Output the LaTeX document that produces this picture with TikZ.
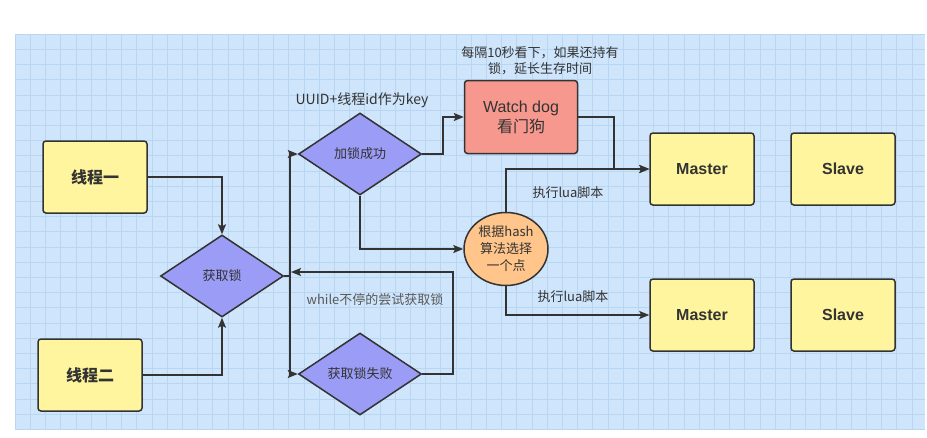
\documentclass[tikz,border=0pt]{standalone}
\usepackage{fontspec}
\setmainfont{Liberation Sans}
\newfontfamily\cjk{Noto Sans CJK SC}
\usetikzlibrary{arrows.meta,shapes.geometric}
\definecolor{bg}{HTML}{CFE5FB}
\definecolor{gridc}{HTML}{B8D5F2}
\definecolor{yel}{HTML}{FFF59E}
\definecolor{purp}{HTML}{9A9CF6}
\definecolor{salmon}{HTML}{F6988E}
\definecolor{orng}{HTML}{FFC58A}
\definecolor{edgec}{HTML}{333333}
\definecolor{txt}{HTML}{333333}
\tikzset{
  yelbox/.style={draw=edgec, line width=1.5pt, rounded corners=3pt, fill=yel,
    minimum width=104pt, minimum height=72pt, inner sep=0pt, text=txt,
    font=\cjk\bfseries\fontsize{16}{19}\selectfont},
  dia/.style={diamond, draw=edgec, line width=1.5pt, fill=purp, aspect=1.5,
    minimum width=123pt, minimum height=82pt, inner sep=0pt, text=txt,
    font=\cjk\fontsize{13}{15}\selectfont},
  conn/.style={draw=edgec, line width=1.5pt},
  arr/.style={conn, -{Stealth[length=10pt,width=8pt,inset=2pt]}},
  lbl/.style={text=txt, font=\cjk\fontsize{13}{16}\selectfont, inner sep=0pt, align=center}
}
\begin{document}
\begin{tikzpicture}[x=1pt,y=-1pt]
\useasboundingbox (0,0) rectangle (927,437);
\fill[white] (0,0) rectangle (927,437);
\fill[bg] (15,34) rectangle (925,430);
\begin{scope}
\clip (15,34) rectangle (925,430);
\foreach \i in {0,...,60} \draw[gridc, line width=0.6pt] ({15+\i*15.2},34) -- ++(0,396);
\foreach \j in {0,...,26} \draw[gridc, line width=0.6pt] (15,{34+\j*15.2}) -- ++(910,0);
\end{scope}

% nodes
\node[yelbox] (t1) at (95,177) {线程一};
\node[yelbox] (t2) at (90,375) {线程二};
\node[dia] (get) at (222,276) {获取锁};
\node[dia] (ok) at (360,154) {加锁成功};
\node[dia] (fail) at (360,374) {获取锁失败};
\node[draw=edgec, line width=1.5pt, rounded corners=3pt, fill=salmon,
  minimum width=113pt, minimum height=73pt, inner sep=0pt, text=txt, align=center,
  font=\fontsize{16}{20}\selectfont] (wd) at (521,117) {Watch dog\\{\cjk 看门狗}};
\node[ellipse, draw=edgec, line width=1.5pt, fill=orng, minimum width=84pt,
  minimum height=73pt, inner sep=0pt, text=txt, align=center,
  font=\cjk\fontsize{13}{17}\selectfont] (hash) at (506,249) {根据hash\\算法选择\\一个点};
\node[yelbox, font=\bfseries\fontsize{16}{19}\selectfont] (m1) at (702,169) {Master};
\node[yelbox, font=\bfseries\fontsize{16}{19}\selectfont] (s1) at (843,169) {Slave};
\node[yelbox, font=\bfseries\fontsize{16}{19}\selectfont] (m2) at (702,315) {Master};
\node[yelbox, font=\bfseries\fontsize{16}{19}\selectfont] (s2) at (843,315) {Slave};

% labels
\node[lbl, font=\cjk\fontsize{14}{16}\selectfont] (lkey) at (362,100) {UUID+线程id作为key};
\node[lbl] (lwd) at (540,61) {每隔10秒看下，如果还持有\\锁，延长生存时间};
\node[lbl, text=black!65] (lwhile) at (375,300) {while不停的尝试获取锁};
\node[lbl] (llua1) at (568,193) {执行lua脚本};
\node[lbl] (llua2) at (573,297) {执行lua脚本};

% helper coordinates
\coordinate (j) at (290,276);
\coordinate (jr) at (291,272);
\coordinate (lp) at (453,272);
\coordinate (okr) at (443,154);
\coordinate (wdr) at (614,169);

% connectors
\draw[arr] (t1.east) -| (get.north);
\draw[arr] (t2.east) -| (get.south);
\draw[conn] (get.east) -- (j);
\draw[arr] (j) |- (ok.west);
\draw[arr] (j) |- (fail.west);
\draw[arr] (fail.east) -| (lp) -- (jr);
\draw[arr] (ok.east) -- (okr) |- (wd.west);
\draw[arr] (wd.east) -| (wdr) -- (m1.west);
\draw[arr] (ok.south) |- (hash.west);
\draw[arr] (hash.north) |- (m1.west);
\draw[arr] (hash.south) |- (m2.west);
\end{tikzpicture}
\end{document}
